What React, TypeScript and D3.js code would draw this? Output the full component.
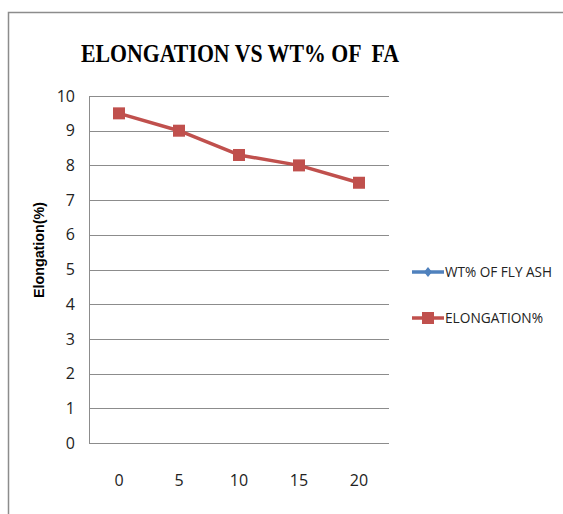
import { useEffect, useRef } from 'react';
import * as d3 from 'd3';

const CATEGORIES = ['0', '5', '10', '15', '20'];
const ELONGATION = [9.5, 9.0, 8.3, 8.0, 7.5];
const Y_TICKS = [0, 1, 2, 3, 4, 5, 6, 7, 8, 9, 10];
const LEGEND = [
  { name: 'WT% OF FLY ASH', color: '#4F81BD', marker: 'diamond' },
  { name: 'ELONGATION%', color: '#C0504D', marker: 'square' },
];

export default function App() {
  const svgRef = useRef<SVGSVGElement>(null);

  useEffect(() => {
    if (!svgRef.current) return;
    const svg = d3.select(svgRef.current);
    svg.selectAll('*').remove();

    const left = 89;
    const right = 389;
    const top = 96;
    const bottom = 443;
    const tickFont = "'Open Sans', Lato, sans-serif";

    // outer chart border
    svg
      .append('rect')
      .attr('x', 8.5)
      .attr('y', 12.5)
      .attr('width', 600)
      .attr('height', 600)
      .attr('fill', 'white')
      .attr('stroke', '#8c8c8c')
      .attr('stroke-width', 1.5);

    svg
      .append('text')
      .attr('x', 81)
      .attr('y', 62)
      .attr('textLength', 318)
      .attr('lengthAdjust', 'spacingAndGlyphs')
      .attr('font-family', "'Liberation Serif', 'DejaVu Serif', serif")
      .attr('font-weight', 'bold')
      .attr('font-size', 25)
      .style('white-space', 'pre')
      .attr('fill', '#000')
      .text('ELONGATION VS WT% OF  FA');

    const x = d3.scaleBand().domain(CATEGORIES).range([left, right]);
    const y = d3.scaleLinear().domain([0, 10]).range([bottom, top]);

    // gridlines
    svg
      .append('g')
      .selectAll('line')
      .data(Y_TICKS)
      .join('line')
      .attr('x1', left)
      .attr('x2', right)
      .attr('y1', (d) => Math.round(y(d)) + 0.5)
      .attr('y2', (d) => Math.round(y(d)) + 0.5)
      .attr('stroke', '#8c8c8c')
      .attr('stroke-width', 1);

    svg
      .append('line')
      .attr('x1', left + 0.5)
      .attr('x2', left + 0.5)
      .attr('y1', top)
      .attr('y2', bottom)
      .attr('stroke', '#8c8c8c');

    // y tick labels
    svg
      .append('g')
      .selectAll('text')
      .data(Y_TICKS)
      .join('text')
      .attr('x', 75)
      .attr('y', (d) => y(d))
      .attr('dy', '0.35em')
      .attr('text-anchor', 'end')
      .attr('font-family', tickFont)
      .attr('font-size', 16)
      .attr('fill', '#222')
      .text((d) => d);

    // x tick labels
    svg
      .append('g')
      .selectAll('text')
      .data(CATEGORIES)
      .join('text')
      .attr('x', (d) => (x(d) ?? 0) + x.bandwidth() / 2)
      .attr('y', 486)
      .attr('text-anchor', 'middle')
      .attr('font-family', tickFont)
      .attr('font-size', 16)
      .attr('fill', '#222')
      .text((d) => d);

    // y axis title
    svg
      .append('text')
      .attr('transform', `translate(44,250) rotate(-90)`)
      .attr('text-anchor', 'middle')
      .attr('textLength', 96)
      .attr('lengthAdjust', 'spacingAndGlyphs')
      .attr('font-family', "'Liberation Sans', Arial, sans-serif")
      .attr('font-weight', 'bold')
      .attr('font-size', 15)
      .attr('fill', '#000')
      .text('Elongation(%)');

    // series
    const line = d3
      .line<number>()
      .x((_, i) => (x(CATEGORIES[i]) ?? 0) + x.bandwidth() / 2)
      .y((d) => y(d));

    svg
      .append('path')
      .datum(ELONGATION)
      .attr('fill', 'none')
      .attr('stroke', '#C0504D')
      .attr('stroke-width', 3.5)
      .attr('stroke-linejoin', 'round')
      .attr('d', line);

    svg
      .append('g')
      .selectAll('rect')
      .data(ELONGATION)
      .join('rect')
      .attr('x', (_, i) => (x(CATEGORIES[i]) ?? 0) + x.bandwidth() / 2 - 6)
      .attr('y', (d) => y(d) - 6)
      .attr('width', 12)
      .attr('height', 12)
      .attr('fill', '#C0504D');

    // legend
    const lg = svg
      .append('g')
      .selectAll('g')
      .data(LEGEND)
      .join('g')
      .attr('transform', (_, i) => `translate(412,${272 + i * 46})`);

    lg.append('line')
      .attr('x1', 0)
      .attr('x2', 32)
      .attr('y1', 0)
      .attr('y2', 0)
      .attr('stroke', (d) => d.color)
      .attr('stroke-width', 3.5);

    lg.append('path')
      .attr('transform', 'translate(16,0)')
      .attr('d', (d) =>
        d.marker === 'diamond'
          ? 'M0,-5L4,0L0,5L-4,0Z'
          : 'M-6,-6H6V6H-6Z'
      )
      .attr('fill', (d) => d.color);

    lg.append('text')
      .attr('x', 33)
      .attr('y', 0)
      .attr('dy', '0.35em')
      .attr('textLength', (d) => (d.marker === 'diamond' ? 107 : 98))
      .attr('lengthAdjust', 'spacingAndGlyphs')
      .attr('font-family', tickFont)
      .attr('font-size', 15)
      .attr('fill', '#222')
      .text((d) => d.name);
  }, []);

  return (
    <svg
      ref={svgRef}
      width={563}
      height={514}
      style={{ position: 'absolute', left: 0, top: 0, background: 'white' }}
    />
  );
}
